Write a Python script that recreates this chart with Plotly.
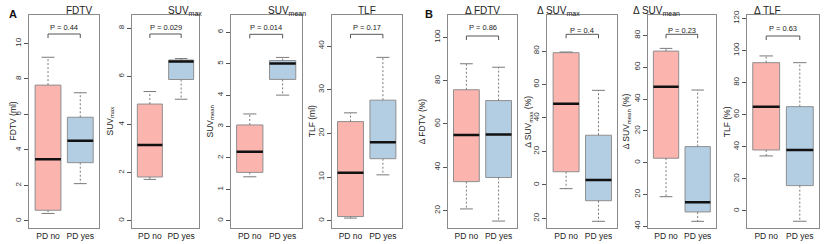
import plotly.graph_objects as go

# ---------------- data ----------------
groups = ["PD no", "PD yes"]
panel_titles = ["FDTV", "SUV<sub>max</sub>", "SUV<sub>mean</sub>", "TLF",
                "Δ FDTV", "Δ SUV<sub>max</sub>", "Δ SUV<sub>mean</sub>", "Δ TLF"]
y_titles = ["FDTV (ml)", "SUV<sub>max</sub>", "SUV<sub>mean</sub>", "TLF (ml)",
            "Δ FDTV (%)", "Δ SUV<sub>max</sub> (%)", "Δ SUV<sub>mean</sub> (%)", "TLF (%)"]
p_values = ["P = 0.44", "P = 0.029", "P = 0.014", "P = 0.17",
            "P = 0.86", "P = 0.4", "P = 0.23", "P = 0.63"]
section_labels = ["A", "B"]

# per panel: [PD no, PD yes]
lower = [[0.42, 2.1], [1.72, 5.05], [1.4, 4.0], [0.6, 10.5],
         [20.8, 15.2], [-2.2, -21.7], [-21.4, -36.9], [34.3, -6.4]]
q1 = [[0.6, 3.28], [1.82, 5.87], [1.54, 4.5], [0.95, 14.2],
      [33.4, 35.3], [7.9, -9.4], [2.8, -31.0], [38.0, 15.8]]
median = [[3.47, 4.52], [3.15, 6.62], [2.2, 5.01], [11.0, 17.95],
          [54.9, 55.1], [48.5, 3.0], [47.8, -24.9], [65.0, 38.0]]
q3 = [[7.65, 5.84], [4.85, 6.68], [3.05, 5.1], [22.7, 27.6],
      [75.8, 70.8], [79.0, 29.7], [70.2, 10.1], [92.4, 65.0]]
upper = [[9.22, 7.22], [5.37, 6.74], [3.4, 5.2], [24.7, 37.4],
         [87.8, 86.2], [79.4, 56.5], [71.9, 45.7], [96.6, 92.4]]

y_tickvals = [[0, 2, 4, 6, 8, 10], [0, 2, 4, 6, 8], [0, 1, 2, 3, 4, 5, 6],
              [0, 10, 20, 30, 40], [20, 40, 60, 80, 100],
              [-20, 0, 20, 40, 60, 80], [-40, -20, 0, 20, 40, 60, 80],
              [0, 20, 40, 60, 80, 100, 120]]
y_ticktext = [["0", "2", "4", "6", "8", "10"], ["0", "2", "4", "6", "8"],
              ["0", "1", "2", "3", "4", "5", "6"], ["0", "10", "20", "30", "40"],
              ["20", "40", "60", "80", "100"], ["20", "0", "20", "40", "60", "80"],
              ["40", "20", "0", "20", "40", "60", "80"],
              ["0", "20", "40", "60", "80", "100", "120"]]
y_ranges = [[-0.4, 11.6], [-0.3, 8.55], [-0.23, 6.55], [-1.67, 47.1],
            [12.0, 110.3], [-25.7, 101.5], [-41.1, 92.9], [-10.6, 122.1]]

# ---------------- layout geometry (pixels) ----------------
W, H = 825, 244
frames_px = [(29.3, 99), (131.7, 199.3), (230.7, 301.7), (331.7, 401.7),
             (447.7, 517.3), (547.3, 617.3), (647.7, 716), (746.7, 819.3)]
ytitle_px = [12, 110, 210, 311.7, 421.7, 528.3, 626.7, 726.7]
label_px = [(13, 14), (429, 14)]
top_px, bot_px = 15, 228
bracket_px = [34, 34, 34.3, 34.3, 36, 34.3, 34.3, 36]
ptext_px = [27.3, 27.3, 27.3, 27.3, 27.3, 30, 30, 28.3]

fills = ["#FBB4AE", "#B3CDE3"]
frame_col = "#8a8a8a"
font_fam = "Liberation Sans, Arial, sans-serif"

fig = go.Figure()
shapes, annotations = [], []
ydom = [1 - bot_px / H, 1 - top_px / H]

def dom_y(px):
    return (bot_px - px) / (bot_px - top_px)

for i in range(8):
    n = i + 1
    xa = "x" if n == 1 else f"x{n}"
    ya = "y" if n == 1 else f"y{n}"
    for g in range(2):
        xc = g + 1
        fig.add_trace(go.Box(
            x=[xc], q1=[q1[i][g]], median=[median[i][g]], q3=[q3[i][g]],
            lowerfence=[q1[i][g]], upperfence=[q3[i][g]],
            width=0.8, fillcolor=fills[g], line=dict(color="#8f8f8f", width=1),
            whiskerwidth=0, boxpoints=False, name=groups[g], showlegend=False,
            xaxis=xa, yaxis=ya, hoverinfo="skip"))
        # dashed whiskers
        fig.add_trace(go.Scatter(
            x=[xc, xc, None, xc, xc],
            y=[q3[i][g], upper[i][g], None, q1[i][g], lower[i][g]],
            mode="lines", line=dict(color="#7a7a7a", width=1, dash="2px,2px"),
            showlegend=False, xaxis=xa, yaxis=ya, hoverinfo="skip"))
        # caps
        fig.add_trace(go.Scatter(
            x=[xc - 0.2, xc + 0.2, None, xc - 0.2, xc + 0.2],
            y=[upper[i][g], upper[i][g], None, lower[i][g], lower[i][g]],
            mode="lines", line=dict(color="#7a7a7a", width=1),
            showlegend=False, xaxis=xa, yaxis=ya, hoverinfo="skip"))
        # median
        fig.add_trace(go.Scatter(
            x=[xc - 0.4, xc + 0.4], y=[median[i][g], median[i][g]],
            mode="lines", line=dict(color="#111111", width=2.5),
            showlegend=False, xaxis=xa, yaxis=ya, hoverinfo="skip"))

    x0, x1 = frames_px[i]
    fig.update_layout(**{
        ("xaxis" if n == 1 else f"xaxis{n}"): dict(
            domain=[x0 / W, x1 / W], range=[0.42, 2.58], anchor=ya,
            tickvals=[1, 2], ticktext=groups, ticks="", showgrid=False,
            zeroline=False, showline=True, mirror=True, linecolor=frame_col,
            linewidth=1, automargin=False,
            tickfont=dict(size=8.5, color="#222", family=font_fam)),
        ("yaxis" if n == 1 else f"yaxis{n}"): dict(
            domain=ydom, range=y_ranges[i], anchor=xa,
            tickvals=y_tickvals[i], ticktext=y_ticktext[i], tickangle=-90,
            ticks="outside", ticklen=4, tickcolor="#555", showgrid=False,
            zeroline=False, showline=True, mirror=True, linecolor=frame_col,
            linewidth=1, automargin=False,
            tickfont=dict(size=8, color="#333", family=font_fam)),
    })

    # bracket
    yb = dom_y(bracket_px[i])
    ye = dom_y(bracket_px[i] + 4)
    shapes.append(dict(type="path", xref=xa, yref=f"{ya} domain",
                       path=f"M 1 {ye} L 1 {yb} L 2 {yb} L 2 {ye}",
                       line=dict(color="#555", width=1)))
    annotations.append(dict(x=1.5, xref=xa, y=dom_y(ptext_px[i]),
                            yref=f"{ya} domain", text=p_values[i],
                            showarrow=False, yanchor="middle",
                            font=dict(size=7.5, color="#222", family=font_fam)))
    # panel title
    annotations.append(dict(x=(x0 + x1) / 2 / W, xref="paper", y=1 - 10.5 / H,
                            yref="paper", text=panel_titles[i], showarrow=False,
                            yanchor="middle",
                            font=dict(size=10, color="#222", family=font_fam)))
    # y-axis title
    annotations.append(dict(x=ytitle_px[i] / W, xref="paper",
                            y=(ydom[0] + ydom[1]) / 2, yref="paper",
                            text=y_titles[i], showarrow=False, textangle=-90,
                            xanchor="center", yanchor="middle",
                            font=dict(size=8.5, color="#222", family=font_fam)))

for lab, (lx, ly) in zip(section_labels, label_px):
    annotations.append(dict(x=lx / W, y=1 - ly / H, xref="paper", yref="paper",
                            xanchor="center", yanchor="middle",
                            text=f"<b>{lab}</b>", showarrow=False,
                            font=dict(size=11, color="#111", family=font_fam)))

fig.update_layout(width=W, height=H, margin=dict(l=0, r=0, t=0, b=0, autoexpand=False),
                  paper_bgcolor="white", plot_bgcolor="white",
                  shapes=shapes, annotations=annotations, showlegend=False,
                  font=dict(family=font_fam))

fig.write_html("out.html", config={"displayModeBar": False},
               post_script="document.body.style.margin='0';"
                           "document.body.style.overflow='hidden';")
